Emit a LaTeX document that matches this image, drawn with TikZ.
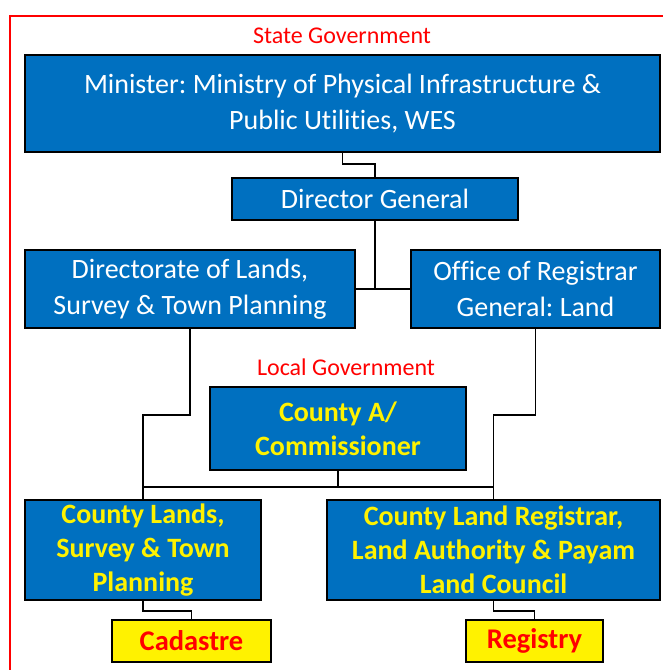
\documentclass[tikz,border=0pt]{standalone}
\usepackage{fontspec}
\setmainfont{Carlito}[Ligatures=NoCommon]
\frenchspacing
\usetikzlibrary{positioning}

\definecolor{deptblue}{RGB}{0,112,192}

\begin{document}
\begin{tikzpicture}[x=1pt, y=-1pt,
  box/.style={draw=black, line width=1.8pt, fill=deptblue, align=center,
    inner sep=0pt, font=\fontsize{28}{36}\selectfont},
  statebox/.style={box, text=white},
  localbox/.style={box, text=yellow, font=\bfseries\fontsize{28}{34}\selectfont},
  recbox/.style={draw=black, line width=1.8pt, fill=yellow, text=red,
    inner sep=0pt, minimum height=42pt, font=\bfseries\fontsize{28.5}{30}\selectfont},
  tier/.style={text=red, font=\fontsize{24}{26}\selectfont},
  link/.style={line width=1.8pt},
]
  \useasboundingbox (0,0) rectangle (663,670);
  \draw[red, line width=1.8pt] (10,672) -- (10,16) -- (665,16);

  \node[tier] (stlabel) at (342,36) {State Government};
  \node[statebox, minimum width=635pt, minimum height=97pt] (minister) at (342.5,103.5)
    {Minister: Ministry of Physical Infrastructure \&\\Public Utilities, WES};
  \node[statebox, minimum width=286pt, minimum height=42pt] (dg) at (375,199) {Director General};
  \node[statebox, minimum width=330pt, minimum height=78pt] (dir) at (190,289)
    {Directorate of Lands,\\Survey \& Town Planning};
  \node[statebox, minimum width=249pt, minimum height=78pt] (off) at (535.5,289)
    {Office of Registrar\\General: Land};

  \node[tier] (lclabel) at (346,367) {Local Government};
  \node[localbox, minimum width=256pt, minimum height=83pt] (county) at (338,428.5)
    {County A/\\Commissioner};
  \node[localbox, minimum width=236pt, minimum height=100pt] (lands) at (143,550)
    {County Lands,\\Survey \& Town\\Planning};
  \node[localbox, minimum width=333pt, minimum height=100pt] (reg) at (493.5,550)
    {County Land Registrar,\\Land Authority \& Payam\\Land Council};

  \node[recbox, minimum width=159pt] (cad) at (191.5,641) {Cadastre};
  \node[recbox, minimum width=137pt] (regy) at (534.5,641) {Registry};

  % state level
  \draw[link] (minister.south) -- ++(0,11) -| (dg.north);
  \draw[link] (dg.south) -- (dg.south |- dir.east);
  \draw[link] (dir.east) -- (off.west);
  \draw[link] (dir.south) -- ++(0,86) -| (lands.north);
  \draw[link] (off.south) -- ++(0,86) -| (reg.north);

  % local level
  \draw[link] (county.south) -- ++(0,16) coordinate (join);
  \draw[link] (lands.north |- join) -- (reg.north |- join);
  \draw[link] (lands.south) -- ++(0,10) -| (cad.north);
  \draw[link] (reg.south) -- ++(0,10) -| (regy.north);
\end{tikzpicture}
\end{document}
